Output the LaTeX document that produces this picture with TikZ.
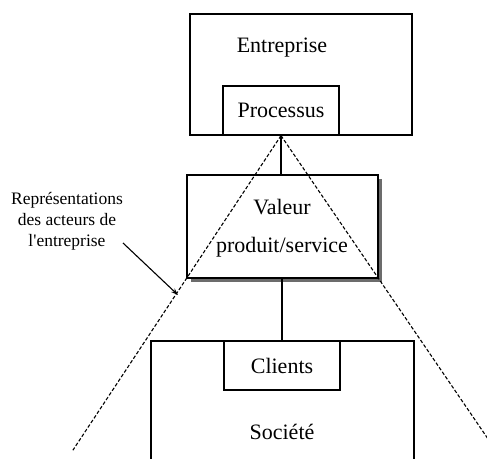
\documentclass[tikz,border=0pt]{standalone}
\usepackage{fontspec}
\setmainfont{Liberation Serif}
\usepackage{tikz}
\usetikzlibrary{calc,arrows.meta,positioning,shadows}
\tikzset{
  box/.style={draw,line width=1.2pt,inner sep=0pt,fill=white},
  txt/.style={inner sep=0pt,font=\fontsize{22}{26}\selectfont},
  link/.style={line width=2.6pt},
  sight/.style={line width=1.1pt,dash pattern=on 3.5pt off 2pt}
}

\begin{document}
\begin{tikzpicture}[x=1pt,y=1pt,line cap=butt,line join=miter]
  % ---- drawing window (matches the screenshot range) ----
  \useasboundingbox (0,0) rectangle (487,458);
  \clip (0,0) rectangle (487,458);

  % ---- enterprise side ----
  \node[box,minimum width=222pt,minimum height=121pt] (entreprise) at (301,383.5) {};
  \node[txt] (entreprisetxt) at (282,410) {Entreprise};
  \node[box,minimum width=116pt,minimum height=49pt,txt] (processus) at (281,347.5) {Processus};

  % ---- value box with shadow ----
  \node[box,minimum width=191pt,minimum height=103pt,
        drop shadow={shadow xshift=4pt,shadow yshift=-4pt,fill=gray!85!black,opacity=1}]
        (valeur) at (282.5,231.5) {};
  \node[txt] (valeurtxt) at (282,251) {Valeur};
  \node[txt] (produittxt) at (282,211) {produit/service};

  % ---- society side (box runs off the bottom) ----
  \node[box,minimum width=263pt,minimum height=160pt] (societe) at (282.5,37) {};
  \node[txt] (societetxt) at (282,26) {Société};
  \node[box,minimum width=116pt,minimum height=49pt,txt] (clients) at (282,92.5) {Clients};

  % ---- links ----
  \draw[link] (processus.south) -- (valeur.north -| processus.south);
  \draw[link] (valeur.south -| clients.north) -- (clients.north);

  % ---- lines of sight (dashed) ----
  \coordinate (apex) at (processus.south);
  \draw[sight] (apex) -- ($(apex)!2.2!(valeur.south west)$);
  \draw[sight] (apex) -- ($(apex)!2.2!(valeur.south east)$);

  % ---- annotation ----
  \node[inner sep=0pt,align=center,font=\fontsize{17.5}{21}\selectfont] (acteurs) at (67,237)
    {Représentations\\des acteurs de\\l\textquotesingle entreprise};
  \coordinate (arrowfrom) at (123,215);
  \coordinate (arrowto) at (178,163);
  \draw[line width=1.1pt,-{Stealth[length=7pt,width=5pt]}] (arrowfrom) -- (arrowto);
\end{tikzpicture}
\end{document}
